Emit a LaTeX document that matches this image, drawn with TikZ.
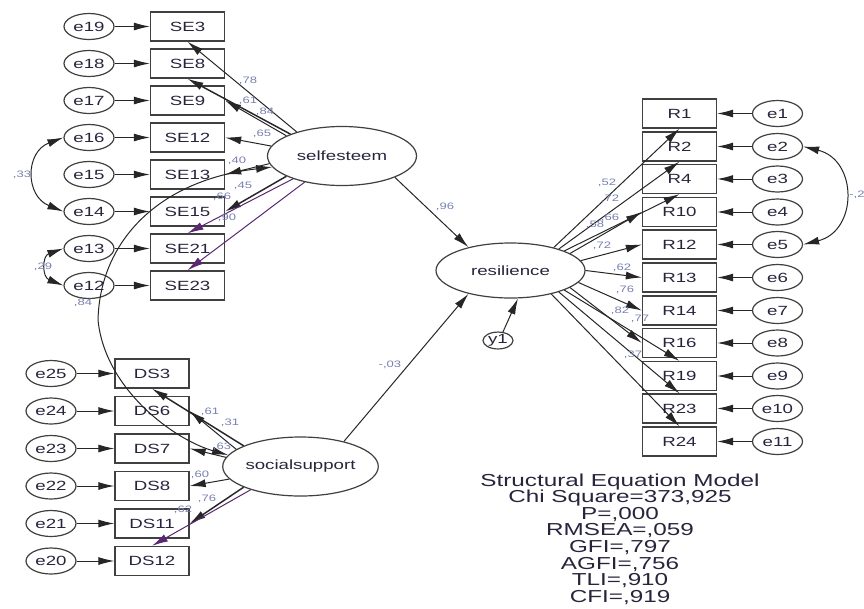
\documentclass[tikz,border=0pt]{standalone}
\usepackage{fontspec}
\setmainfont{Liberation Sans}[FakeStretch=1.4]
\usetikzlibrary{shapes,arrows.meta}
\definecolor{semtext}{RGB}{40,36,60}
\definecolor{semlabel}{RGB}{120,128,175}
\definecolor{sempurple}{RGB}{90,40,115}

\begin{document}
\begin{tikzpicture}[x=0.75pt,y=-0.75pt]
	\tikzstyle{every node}=[font=\fontsize{10}{12}\selectfont,text=semtext]
	\tikzstyle{obs}=[draw=black!75,line width=1pt,minimum width=55.5pt,minimum height=21.75pt,inner sep=0pt]
	\tikzstyle{err}=[ellipse,draw=black!75,line width=0.9pt,minimum width=37.5pt,minimum height=19.5pt,inner sep=0pt]
	\tikzstyle{lat}=[ellipse,draw=black!75,line width=0.9pt,minimum width=111.75pt,minimum height=44.25pt,inner sep=0pt]
	\tikzstyle{lbl}=[font=\fontsize{7}{8}\selectfont,text=semlabel,inner sep=0pt]
	\tikzstyle{load}=[-{Latex[length=12pt,width=6pt]},line width=0.75pt,black!85]
	\tikzstyle{cov}=[{Latex[length=12pt,width=6pt]}-{Latex[length=12pt,width=6pt]},line width=0.75pt,black!85]

	%%Created from AMOS output
	\useasboundingbox (0,0) rectangle (864,608);

	\node[lat] (selfesteem) at (342.0,156.0) {selfesteem};
	\node[lat,minimum height=41.25pt] (resilience) at (510.5,270.5) {resilience};
	\node[lat] (socialsupport) at (300.5,466.5) {socialsupport};
	\node[err,minimum width=22.5pt,minimum height=11.25pt] (y1) at (498.0,340.5) {y1};

	\node[obs] (SE3) at (187.5,26.5) {SE3};
	\node[obs] (SE8) at (187.5,63.5) {SE8};
	\node[obs] (SE9) at (187.5,100.5) {SE9};
	\node[obs] (SE12) at (187.5,137.5) {SE12};
	\node[obs] (SE13) at (187.5,174.5) {SE13};
	\node[obs] (SE15) at (187.5,211.5) {SE15};
	\node[obs] (SE21) at (187.5,248.5) {SE21};
	\node[obs] (SE23) at (187.5,285.5) {SE23};

	\node[err] (e19) at (89.0,26.5) {e19};
	\node[err] (e18) at (89.0,63.5) {e18};
	\node[err] (e17) at (89.0,100.5) {e17};
	\node[err] (e16) at (89.0,137.5) {e16};
	\node[err] (e15) at (89.0,174.5) {e15};
	\node[err] (e14) at (89.0,211.5) {e14};
	\node[err] (e13) at (89.0,248.5) {e13};
	\node[err] (e12) at (89.0,285.5) {e12};

	\node[obs] (DS3) at (152.0,373.5) {DS3};
	\node[obs] (DS6) at (152.0,411.0) {DS6};
	\node[obs] (DS7) at (152.0,448.5) {DS7};
	\node[obs] (DS8) at (152.0,486.0) {DS8};
	\node[obs] (DS11) at (152.0,523.5) {DS11};
	\node[obs] (DS12) at (152.0,561.0) {DS12};

	\node[err] (e25) at (51.0,373.5) {e25};
	\node[err] (e24) at (51.0,411.0) {e24};
	\node[err] (e23) at (51.0,448.5) {e23};
	\node[err] (e22) at (51.0,486.0) {e22};
	\node[err] (e21) at (51.0,523.5) {e21};
	\node[err] (e20) at (51.0,561.0) {e20};

	\node[obs] (R1) at (679.5,113.5) {R1};
	\node[obs] (R2) at (679.5,146.5) {R2};
	\node[obs] (R4) at (679.5,179.0) {R4};
	\node[obs] (R10) at (679.5,212.0) {R10};
	\node[obs] (R12) at (679.5,244.5) {R12};
	\node[obs] (R13) at (679.5,277.5) {R13};
	\node[obs] (R14) at (679.5,310.5) {R14};
	\node[obs] (R16) at (679.5,343.0) {R16};
	\node[obs] (R19) at (679.5,376.0) {R19};
	\node[obs] (R23) at (679.5,408.5) {R23};
	\node[obs] (R24) at (679.5,441.5) {R24};

	\node[err] (e1) at (777.5,113.5) {e1};
	\node[err] (e2) at (777.5,146.5) {e2};
	\node[err] (e3) at (777.5,179.0) {e3};
	\node[err] (e4) at (777.5,212.0) {e4};
	\node[err] (e5) at (777.5,244.5) {e5};
	\node[err] (e6) at (777.5,277.5) {e6};
	\node[err] (e7) at (777.5,310.5) {e7};
	\node[err] (e8) at (777.5,343.0) {e8};
	\node[err] (e9) at (777.5,376.0) {e9};
	\node[err] (e10) at (777.5,408.5) {e10};
	\node[err] (e11) at (777.5,441.5) {e11};

	%%error terms
	\draw[load] (e19) -- (SE3);
	\draw[load] (e18) -- (SE8);
	\draw[load] (e17) -- (SE9);
	\draw[load] (e16) -- (SE12);
	\draw[load] (e15) -- (SE13);
	\draw[load] (e14) -- (SE15);
	\draw[load] (e13) -- (SE21);
	\draw[load] (e12) -- (SE23);
	\draw[load] (e25) -- (DS3);
	\draw[load] (e24) -- (DS6);
	\draw[load] (e23) -- (DS7);
	\draw[load] (e22) -- (DS8);
	\draw[load] (e21) -- (DS11);
	\draw[load] (e20) -- (DS12);
	\draw[load] (e1) -- (R1);
	\draw[load] (e2) -- (R2);
	\draw[load] (e3) -- (R4);
	\draw[load] (e4) -- (R10);
	\draw[load] (e5) -- (R12);
	\draw[load] (e6) -- (R13);
	\draw[load] (e7) -- (R14);
	\draw[load] (e8) -- (R16);
	\draw[load] (e9) -- (R19);
	\draw[load] (e10) -- (R23);
	\draw[load] (e11) -- (R24);

	%%loadings
	\draw[load] (selfesteem.152) -- (SE3.south);
	\draw[load,line width=1.1pt] (selfesteem.157) -- (SE8.south);
	\draw[load] (selfesteem.160) -- (SE9.east);
	\draw[load] (selfesteem.172) -- (SE12.east);
	\draw[load] (selfesteem.186) -- (SE13.east);
	\draw[load,line width=1.1pt] (selfesteem.200) -- (SE15.east);
	\draw[load,sempurple] (selfesteem.205) -- (SE21.north);
	\draw[load,sempurple] (selfesteem.215) -- (SE23.north);

	\draw[load,line width=1.1pt] (socialsupport.160) -- (DS3.south);
	\draw[load] (socialsupport.165) -- (DS6.east);
	\draw[load] (socialsupport.173) -- (DS7.east);
	\draw[load] (socialsupport.190) -- (DS8.east);
	\draw[load,line width=1.1pt] (socialsupport.200) -- (DS11.east);
	\draw[load,sempurple] (socialsupport.205) -- (DS12.north);

	\draw[load] (resilience.28) -- (R1.south);
	\draw[load] (resilience.24) -- (R2.south);
	\draw[load] (resilience.20) -- (R4.south);
	\draw[load] (resilience.16) -- (R10.west);
	\draw[load] (resilience.8) -- (R12.west);
	\draw[load] (resilience.0) -- (R13.west);
	\draw[load] (resilience.-10) -- (R14.west);
	\draw[load] (resilience.-16) -- (R16.west);
	\draw[load] (resilience.-20) -- (R19.north);
	\draw[load] (resilience.-24) -- (R23.north);
	\draw[load] (resilience.-30) -- (R24.north);

	%%structural paths
	\draw[load] (selfesteem.-22) -- (resilience.151);
	\draw[load] (socialsupport.30) -- (resilience.209);
	\draw[load] (y1.60) -- (resilience.-75);

	%%covariances
	\draw[cov] (e16.west) .. controls (25,152) and (25,196) .. (e14.west);
	\draw[cov] (e13.west) .. controls (42,256) and (42,277) .. (e12.west);
	\draw[cov] (e2.east) .. controls (858,160) and (858,231) .. (e5.east);
	\draw[cov] (selfesteem.189) .. controls (160,180) and (100,240) .. (98,320) .. controls (105,390) and (175,440) .. (socialsupport.171);

	%%estimates
	\node[lbl] (wSE3) at (248,81) {,78};
	\node[lbl] (wSE8) at (248,101) {,61};
	\node[lbl] (wSE9) at (265,112) {,84};
	\node[lbl] (wSE12) at (262,134) {,65};
	\node[lbl] (wSE13) at (237,161) {,40};
	\node[lbl] (wSE15) at (243,186) {,45};
	\node[lbl] (wSE21) at (222,197) {,66};
	\node[lbl] (wSE23) at (227,218) {,90};
	\node[lbl] (c1614) at (22,175) {,33};
	\node[lbl] (c1312) at (43,267) {,29};
	\node[lbl] (cfac) at (83,303) {,84};
	\node[lbl,anchor=west] (c25) at (849,195) {-,2};
	\node[lbl] (wse) at (445,207) {,96};
	\node[lbl] (wss) at (390,365) {-,03};
	\node[lbl] (wDS3) at (210,412) {,61};
	\node[lbl] (wDS6) at (230,423) {,31};
	\node[lbl] (wDS7) at (222,447) {,63};
	\node[lbl] (wDS8) at (200,475) {,60};
	\node[lbl] (wDS11) at (207,499) {,76};
	\node[lbl] (wDS12) at (183,510) {,62};
	\node[lbl] (wR1) at (607,183) {,52};
	\node[lbl] (wR2) at (610,199) {,72};
	\node[lbl] (wR4) at (610,218) {,66};
	\node[lbl] (wR10) at (595,225) {,58};
	\node[lbl] (wR12) at (602,246) {,72};
	\node[lbl] (wR13) at (622,268) {,62};
	\node[lbl] (wR14) at (625,290) {,76};
	\node[lbl] (wR16) at (620,311) {,82};
	\node[lbl] (wR19) at (640,319) {,77};
	\node[lbl] (wR24) at (633,355) {,37};

	\node[align=center,font=\fontsize{13}{12.45}\selectfont] (fit) at (620,539) {Structural Equation Model\\Chi Square=373,925\\P=,000\\RMSEA=,059\\GFI=,797\\AGFI=,756\\TLI=,910\\CFI=,919};

\end{tikzpicture}
\end{document}
